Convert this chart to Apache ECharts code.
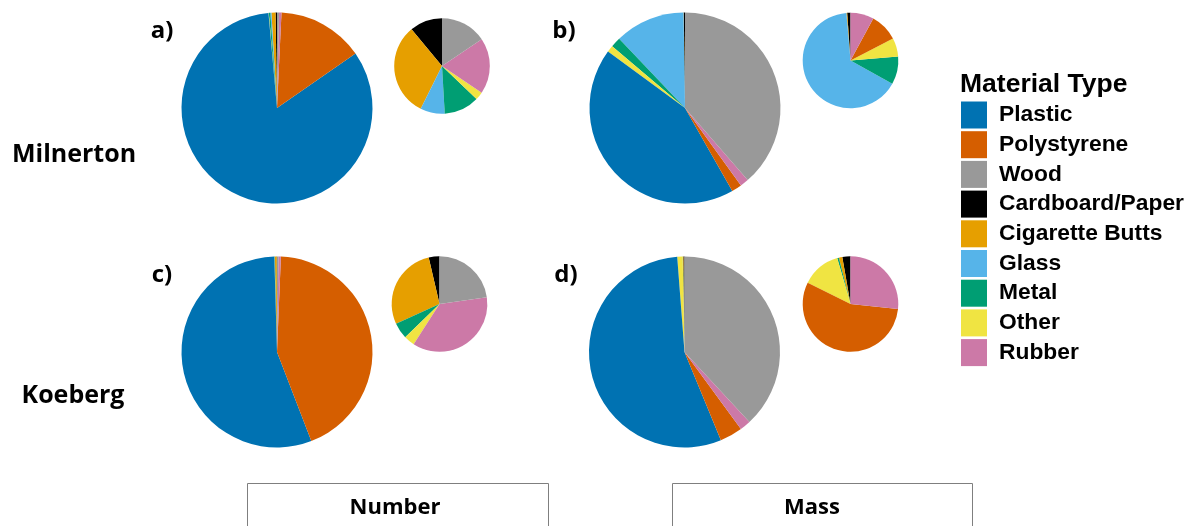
<!DOCTYPE html>
<html>
<head>
<meta charset="utf-8">
<script src="https://cdn.jsdelivr.net/npm/echarts@6/dist/echarts.min.js"></script>
<style>
  html, body { margin: 0; padding: 0; background: #ffffff; }
  #chart { width: 1199px; height: 526px; }
</style>
</head>
<body>
<div id="chart"></div>
<script>
// Material categories, alphabetical; each pie runs counter-clockwise from 12 o'clock in this order
const categories = ['Cardboard/Paper', 'Cigarette Butts', 'Glass', 'Metal', 'Other', 'Plastic', 'Polystyrene', 'Rubber', 'Wood'];
const legendOrder = ['Plastic', 'Polystyrene', 'Wood', 'Cardboard/Paper', 'Cigarette Butts', 'Glass', 'Metal', 'Other', 'Rubber'];
const palette = ['#000000', '#E69F00', '#56B4E9', '#009E73', '#F0E442', '#0072B2', '#D55E00', '#CC79A7', '#999999'];

// Share of collected litter (%) per site, by item count and by mass (same order as categories)
const milnertonNumber = [0.24, 0.69, 0.18, 0.26, 0.06, 83.2, 14.6, 0.41, 0.34];
const milnertonMass   = [0.20, 0.05, 11.86, 1.70, 1.13, 43.3, 1.72, 1.43, 38.6];
const koebergNumber   = [0.04, 0.31, 0.00, 0.06, 0.04, 55.4, 43.5, 0.40, 0.25];
const koebergMass     = [0.19, 0.08, 0.00, 0.04, 0.91, 55.0, 3.84, 1.84, 38.1];

const panelLabels = ['a)', 'b)', 'c)', 'd)'];
const siteLabels = ['Milnerton', 'Koeberg'];
const measureLabels = ['Number', 'Mass'];
const legendTitle = 'Material Type';

// Panel geometry: main pie and the inset that breaks down the minor materials
const panels = [
  { values: milnertonNumber, main: [277, 108], inset: [442, 66] },
  { values: milnertonMass,   main: [685, 108], inset: [850.5, 60.5] },
  { values: koebergNumber,   main: [277, 352], inset: [439.5, 304] },
  { values: koebergMass,     main: [684.5, 352], inset: [850.5, 304] }
];
const mainRadius = 95.5;
const insetRadius = 47.8;

function slices(values, keep) {
  return categories.map((name, i) => ({
    name: name,
    value: values[i],
    itemStyle: { color: palette[i] }
  })).filter((d, i) => keep(i));
}

function pie(data, center, radius, id) {
  return {
    type: 'pie',
    id: id,
    center: center,
    radius: [0, radius],
    startAngle: 90,
    clockwise: false,
    silent: true,
    animation: false,
    label: { show: false },
    labelLine: { show: false },
    itemStyle: { borderWidth: 0 },
    emphasis: { disabled: true },
    data: data
  };
}

const series = [];
panels.forEach((p, k) => {
  series.push(pie(slices(p.values, () => true), p.main, mainRadius, 'main' + k));
  // inset leaves out the two dominant materials
  const ranked = p.values.map((v, i) => i).sort((a, b) => p.values[b] - p.values[a]);
  const dominant = ranked.slice(0, 2);
  series.push(pie(slices(p.values, i => dominant.indexOf(i) < 0), p.inset, insetRadius, 'inset' + k));
});

const labelFont = '"Open Sans", "Noto Sans", sans-serif';
function text(str, x, y, size, align) {
  return {
    type: 'text', x: x, y: y, silent: true,
    style: {
      text: str, fill: '#000', fontFamily: labelFont, fontWeight: 'bold', fontSize: size,
      textAlign: align || 'center', textVerticalAlign: 'middle'
    }
  };
}

const graphic = [
  text(panelLabels[0], 162, 31, 24),
  text(panelLabels[1], 564, 31, 24),
  text(panelLabels[2], 162, 275, 24),
  text(panelLabels[3], 566, 275, 24),
  text(siteLabels[0], 74, 155, 25),
  text(siteLabels[1], 73, 396, 25),
  { type: 'rect', silent: true, shape: { x: 247.5, y: 483.5, width: 301, height: 60 },
    style: { fill: '#fff', stroke: '#7f7f7f', lineWidth: 1 } },
  { type: 'rect', silent: true, shape: { x: 672.5, y: 483.5, width: 300, height: 60 },
    style: { fill: '#fff', stroke: '#7f7f7f', lineWidth: 1 } },
  text(measureLabels[0], 395, 508, 22),
  text(measureLabels[1], 812, 508, 22),
  { type: 'text', x: 960, y: 85, silent: true,
    style: { text: legendTitle, fill: '#000', fontFamily: '"Liberation Sans", Arial, sans-serif',
             fontWeight: 'bold', fontSize: 26.5, textAlign: 'left', textVerticalAlign: 'middle' } }
];

const chart = echarts.init(document.getElementById('chart'), null, { renderer: 'canvas' });
chart.setOption({
  animation: false,
  backgroundColor: '#ffffff',
  legend: {
    orient: 'vertical',
    left: 961,
    top: 101.5,
    padding: 0,
    icon: 'rect',
    itemWidth: 26,
    itemHeight: 27,
    itemGap: 2.7,
    selectedMode: false,
    data: legendOrder,
    textStyle: {
      fontFamily: '"Liberation Sans", Arial, sans-serif',
      fontWeight: 'bold',
      fontSize: 22.8,
      color: '#000',
      padding: [3, 0, 0, 7]
    }
  },
  series: series,
  graphic: graphic
});
</script>
</body>
</html>
